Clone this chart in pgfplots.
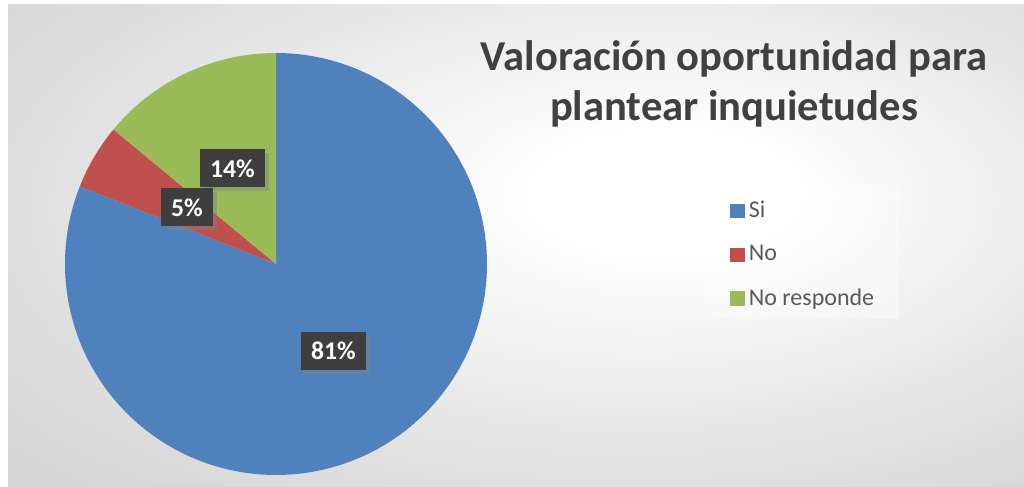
\documentclass[border=0pt]{standalone}
\usepackage{fontspec}
\setmainfont{Carlito}
\usepackage{pgfplots}
\pgfplotsset{compat=1.18}
\usetikzlibrary{shadows,patterns}

\definecolor{siblue}{RGB}{79,129,189}
\definecolor{nored}{RGB}{192,80,77}
\definecolor{nrgreen}{RGB}{155,187,89}
\definecolor{titlegray}{RGB}{64,64,64}
\definecolor{legtext}{RGB}{89,89,89}
\definecolor{lblfill}{RGB}{62,62,62}
\definecolor{bgmid}{RGB}{222,222,222}
\definecolor{bgedge}{RGB}{198,198,198}

\pgfdeclareradialshading{bgshade}{\pgfpoint{8bp}{6bp}}{%
  color(0bp)=(white); color(6bp)=(white); color(30bp)=(bgmid);
  color(55bp)=(bgedge); color(80bp)=(bgedge)}

% shares in percent
\def\pSi{81}
\def\pNo{5}
\def\pNR{14}
\pgfmathsetmacro\aA{90}
\pgfmathsetmacro\aB{90-3.6*\pSi}
\pgfmathsetmacro\aC{\aB-3.6*\pNo}
\pgfmathsetmacro\aD{\aC-3.6*\pNR}

\tikzset{lbl/.style={fill=lblfill,text=white,font=\bfseries\fontsize{12.8}{15}\selectfont,
  inner xsep=5pt,minimum height=19pt,
  drop shadow={opacity=0.45,shadow xshift=2pt,shadow yshift=-2pt}}}

\begin{document}
\begin{tikzpicture}
\begin{axis}[scale only axis,width=512pt,height=243.5pt,
  xmin=0,xmax=1024,ymin=0,ymax=487,hide axis,clip=false,
  legend cell align=left,
  legend image code/.code={\fill[#1] (0pt,-3.6pt) rectangle (7.2pt,3.6pt);},
  legend style={at={(axis cs:730,487-197)},anchor=north west,draw=none,fill=none,
    font=\fontsize{12}{13.5}\selectfont,text=legtext,row sep=8.3pt,
    inner sep=0pt}]
% background
\fill[white] (axis cs:0,0) rectangle (axis cs:1024,487);
\shade[shading=bgshade] (axis cs:8,0) rectangle (axis cs:1024,482);
\fill[white,opacity=0.35] (axis cs:705,487-185) rectangle (axis cs:899,487-319);
% slices
\addplot[fill=siblue,draw=none,domain=\aB:\aA,samples=240]
  ({276+211*cos(x)},{223+211*sin(x)}) -- (axis cs:276,223) -- cycle;
\addlegendentry{Si}
\addplot[fill=nored,draw=none,domain=\aC:\aB,samples=30]
  ({276+211*cos(x)},{223+211*sin(x)}) -- (axis cs:276,223) -- cycle;
\addlegendentry{No}
\addplot[fill=nrgreen,draw=none,domain=\aD:\aC,samples=60]
  ({276+211*cos(x)},{223+211*sin(x)}) -- (axis cs:276,223) -- cycle;
\addlegendentry{No responde}
% data labels
\node[lbl] at (axis cs:333.5,136) {\pSi\%};
\node[lbl] at (axis cs:232.5,318.5) {\pNR\%};
\node[lbl] at (axis cs:187,279.5) {\pNo\%};
% title
\node[align=center,text=titlegray,font=\bfseries\fontsize{21.3}{25}\selectfont]
  at (axis cs:734,487-84) {Valoración oportunidad para\\plantear inquietudes};
\end{axis}
\end{tikzpicture}
\end{document}
